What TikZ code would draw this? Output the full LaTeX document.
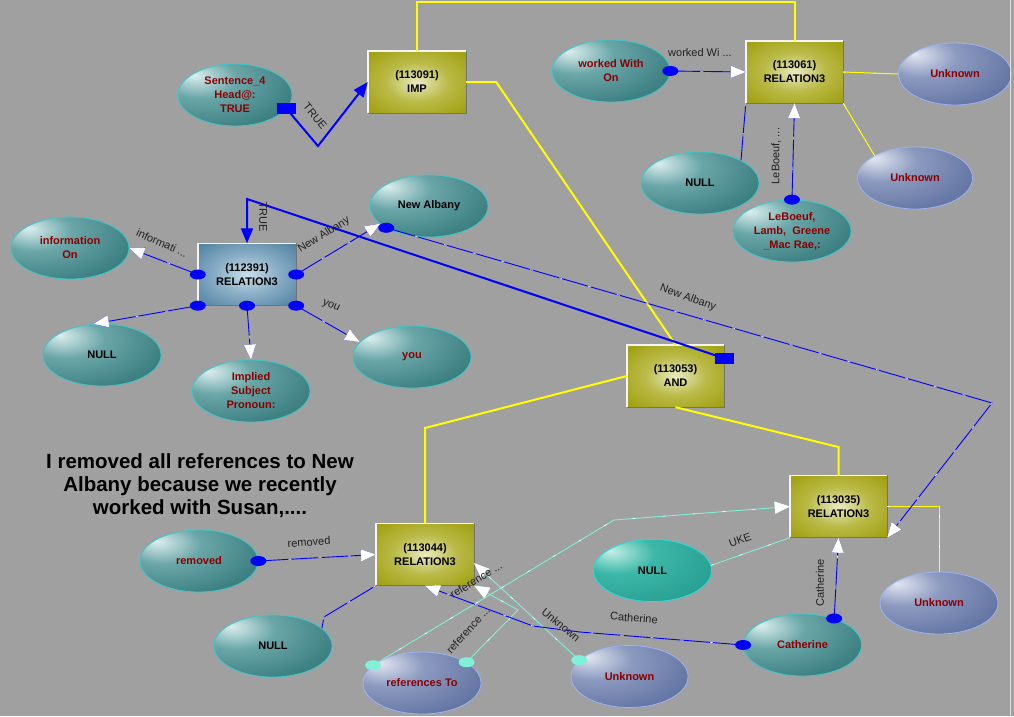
\documentclass[tikz,border=0pt]{standalone}
\usepackage{fontspec}
\setmainfont{Liberation Sans}
\usetikzlibrary{shapes.geometric,arrows.meta}

\definecolor{canvas}{HTML}{A0A0A0}
\definecolor{tealhi}{HTML}{DCEEEE}
\definecolor{tealmid}{HTML}{6AA6A8}
\definecolor{tealdark}{HTML}{2C7274}
\definecolor{tealrim}{HTML}{3CC8C8}
\definecolor{lavhi}{HTML}{E2E6F0}
\definecolor{lavmid}{HTML}{8C9AC0}
\definecolor{lavdark}{HTML}{56699A}
\definecolor{lavrim}{HTML}{9CB4F4}
\definecolor{minthi}{HTML}{C4EEE6}
\definecolor{mintmid}{HTML}{3CB8A8}
\definecolor{mintdark}{HTML}{22988C}
\definecolor{olivehi}{HTML}{EAEAC0}
\definecolor{olivemid}{HTML}{BABA48}
\definecolor{olivedark}{HTML}{A0A010}
\definecolor{steelhi}{HTML}{CCDEEA}
\definecolor{steelmid}{HTML}{8AAEC6}
\definecolor{steeldark}{HTML}{4C7E9E}
\definecolor{wordred}{HTML}{8C0000}
\definecolor{linkblue}{HTML}{0000FF}
\definecolor{linkyellow}{HTML}{FFFF00}
\definecolor{linkaqua}{HTML}{80F0D8}
\definecolor{lblgray}{HTML}{202020}

\pgfdeclareradialshading{tealball}{\pgfpoint{-18bp}{16bp}}{color(0bp)=(tealhi); color(16bp)=(tealmid); color(46bp)=(tealdark); color(100bp)=(tealdark)}
\pgfdeclareradialshading{lavball}{\pgfpoint{-18bp}{16bp}}{color(0bp)=(lavhi); color(16bp)=(lavmid); color(46bp)=(lavdark); color(100bp)=(lavdark)}
\pgfdeclareradialshading{mintball}{\pgfpoint{-18bp}{16bp}}{color(0bp)=(minthi); color(16bp)=(mintmid); color(46bp)=(mintdark); color(100bp)=(mintdark)}
\pgfdeclareradialshading{olivebox}{\pgfpoint{0bp}{0bp}}{color(0bp)=(olivehi); color(16bp)=(olivemid); color(34bp)=(olivedark); color(100bp)=(olivedark)}
\pgfdeclareradialshading{steelbox}{\pgfpoint{0bp}{0bp}}{color(0bp)=(steelhi); color(16bp)=(steelmid); color(36bp)=(steeldark); color(100bp)=(steeldark)}

\begin{document}
\begin{tikzpicture}[x=1pt, y=-1pt,
  every node/.style={font=\bfseries\fontsize{11}{14}\selectfont, align=center, inner sep=0pt},
  oval/.style={ellipse, line width=0.8pt, minimum width=118pt, minimum height=62pt, shade},
  tealnode/.style={oval, draw=tealrim, shading=tealball, text=wordred},
  lavnode/.style={oval, draw=lavrim, shading=lavball, text=wordred},
  mintnode/.style={oval, draw=tealrim!60!cyan, shading=mintball, text=black},
  relbox/.style={rectangle, minimum width=97pt, minimum height=62pt, shade, shading=olivebox},
  steelrel/.style={relbox, shading=steelbox},
  lbl/.style={font=\fontsize{11}{13}\selectfont, text=lblgray},
  note/.style={font=\bfseries\fontsize{20.5}{23}\selectfont, align=center},
  flick/.style={postaction={draw=white, line width=0.6pt, dash pattern=on 3pt off 27pt}},
  blink/.style={draw=linkblue, line width=0.9pt, flick},
  bthick/.style={draw=linkblue, line width=2pt},
  clink/.style={draw=linkaqua, line width=0.9pt, flick},
  yline/.style={draw=linkyellow, line width=2pt},
  ythin/.style={draw=linkyellow, line width=1pt, flick},
  tip/.style={-{Triangle[length=15pt,width=12pt]}},
]
% ---- background ----
\fill[canvas] (0,0) rectangle (1014,716);
\useasboundingbox (0,0) rectangle (1014,716);

% ---- nodes ----
\node[tealnode, minimum width=114pt] (s4) at (235,95) {Sentence\_4\\Head@:\\TRUE};
\node[relbox, minimum width=98pt] (imp) at (417,82) {(113091)\\IMP};
\node[tealnode] (wwo) at (611,71) {worked With\\On};
\node[relbox] (r61) at (794.5,72) {(113061)\\RELATION3};
\node[lavnode, minimum width=113pt] (unkA) at (955,74) {Unknown};
\node[lavnode, minimum width=115pt] (unkB) at (915,178) {Unknown};
\node[tealnode, text=black] (nullA) at (700,183) {NULL};
\node[tealnode] (lebo) at (792,231) {LeBoeuf,\\Lamb,\ \ Greene\\\_Mac Rae,:};
\node[tealnode, text=black] (newalb) at (429,206) {New Albany};
\node[tealnode] (infoOn) at (70,248) {information\\On};
\node[steelrel, minimum width=98pt] (r91) at (247,274.5) {(112391)\\RELATION3};
\node[tealnode, text=black] (nullB) at (102,355) {NULL};
\node[tealnode] (impl) at (251,391) {Implied\\Subject\\Pronoun:};
\node[tealnode] (you) at (412,357) {you};
\node[relbox] (andb) at (675.5,376) {(113053)\\AND};
\node[relbox] (r35) at (838.5,506.5) {(113035)\\RELATION3};
\node[relbox, minimum width=98pt] (r44) at (425,554.5) {(113044)\\RELATION3};
\node[tealnode] (removed) at (199,561) {removed};
\node[tealnode, text=black] (nullC) at (273,646) {NULL};
\node[lavnode] (refTo) at (422,683) {references To};
\node[lavnode, minimum width=117pt] (unkC) at (629.5,676.5) {Unknown};
\node[tealnode] (cath) at (802.5,645) {Catherine};
\node[mintnode] (nullD) at (652.5,570.5) {NULL};
\node[lavnode] (unkD) at (939,603) {Unknown};

% box rims: light top/left, dark bottom/right
\foreach \b in {imp, r61, r91, andb, r35, r44} {
  \draw[white!92!gray, line width=1.4pt] (\b.south west) |- (\b.north east);
  \draw[black!55, line width=1.2pt] (\b.south west) -| (\b.north east);
}

% ---- note ----
\node[note, text=black!36] (noteShade) at (203,489.5) {I removed all references to New\\Albany because we recently\\worked with Susan,....};
\node[note] (noteText) at (200,486) {I removed all references to New\\Albany because we recently\\worked with Susan,....};

% ---- bend points ----
\coordinate (andTurnL) at (425,428);
\coordinate (andTurnR) at (838.5,447);
\coordinate (trueTurnA) at (318,146);
\coordinate (trueTurnB) at (247,199);
\coordinate (naTurn) at (992,403);
\coordinate (nullCturn) at (324,617);
\coordinate (cathTurnA) at (580,632);
\coordinate (cathTurnB) at (533,626);
\coordinate (refTurnA) at (614,520);
\coordinate (refTurnB) at (518,610);

% ---- yellow links ----
\draw[yline] (imp.north) -- ++(0,-49) -| (r61.north);
\draw[yline] (imp.east) -- ++(30,0) -- (andb.north);
\draw[yline] (andb.west) -- (andTurnL) -- (r44.north);
\draw[yline] (andb.south) -- (andTurnR) -- (r35.north);
\draw[ythin] (r61.east) -- (unkA.west);
\draw[ythin] (r61.south east) -- (unkB.151);
\draw[ythin] (r35.east) -| (unkD.north);

% ---- aqua links ----
\draw[clink] (nullD.5) -- (r35.south west);
\draw[clink, tip] (refTo.160) -- (refTurnA) -- (r35.west);
\draw[clink, tip] (refTo.25) -- (refTurnB) -- (r44.south east);
\draw[clink, tip] (unkC.162) -- (r44.-10);

% ---- blue links ----
\draw[blink, tip] (wwo.east) -- (r61.west);
\draw[blink] (r61.south west) -- (nullA.29);
\draw[blink, tip] (lebo.north) -- (r61.south);
\draw[blink, tip] (r91.west) -- (infoOn.east);
\draw[blink, tip] (r91.east) -- (newalb.200);
\draw[blink, tip] (r91.south west) -- (nullB.105);
\draw[blink, tip] (r91.south) -- (impl.north);
\draw[blink, tip] (r91.south east) -- (you.164);
\draw[blink, tip] (newalb.207) -- (naTurn) -- (r35.south east);
\draw[blink, tip] (removed.east) -- (r44.west);
\draw[blink] (r44.south west) -- (nullCturn) -- (nullC.20);
\draw[blink, tip] (cath.west) -- (cathTurnA) -- (cathTurnB) -- (r44.south);
\draw[blink, tip] (cath.40) -- (r35.south);
\draw[bthick, tip] (s4.-15) -- (trueTurnA) -- (imp.west);
\draw[bthick, tip] (andb.20) -- (trueTurnB) -- (r91.north);

% ---- end markers ----
\foreach \p in {wwo.east, lebo.north, r91.west, r91.east, r91.south west,
                r91.south, r91.south east, newalb.207, removed.east, cath.west, cath.40}
  \fill[linkblue] (\p) ellipse (8 and 5);
\foreach \p in {refTo.160, refTo.25, unkC.162}
  \fill[linkaqua] (\p) ellipse (8 and 5);
\foreach \p in {s4.-15, andb.20}
  \fill[linkblue] (\p) ++(-9.5,-5.5) rectangle ++(19,11);

% ---- link labels ----
\node[lbl, rotate=-50] (lTrueA) at (315,116) {TRUE};
\node[lbl, rotate=-90] (lTrueB) at (263,217) {TRUE};
\node[lbl] (lWorked) at (700,53) {worked Wi ...};
\node[lbl, rotate=90] (lLebo) at (776,156) {LeBoeuf, ...};
\node[lbl, rotate=-24] (lInfo) at (162,243) {informati ...};
\node[lbl, rotate=32] (lAlbA) at (324,235) {New Albany};
\node[lbl, rotate=-24] (lYou) at (331,306) {you};
\node[lbl, rotate=-20] (lAlbB) at (688,298) {New Albany};
\node[lbl, rotate=4] (lRemoved) at (309,542) {removed};
\node[lbl, rotate=20] (lUke) at (740,540) {UKE};
\node[lbl, rotate=-5] (lCathA) at (634,618) {Catherine};
\node[lbl, rotate=90] (lCathB) at (820,583) {Catherine};
\node[lbl, rotate=-40] (lUnk) at (561,625) {Unknown};
\node[lbl, rotate=48] (lRefA) at (468,630) {reference ...};
\node[lbl, rotate=32] (lRefB) at (476,580) {reference ...};

% ---- window edge ----
\draw[white!75!gray, line width=1pt] (1010,0) -- (1010,716);
\end{tikzpicture}
\end{document}
